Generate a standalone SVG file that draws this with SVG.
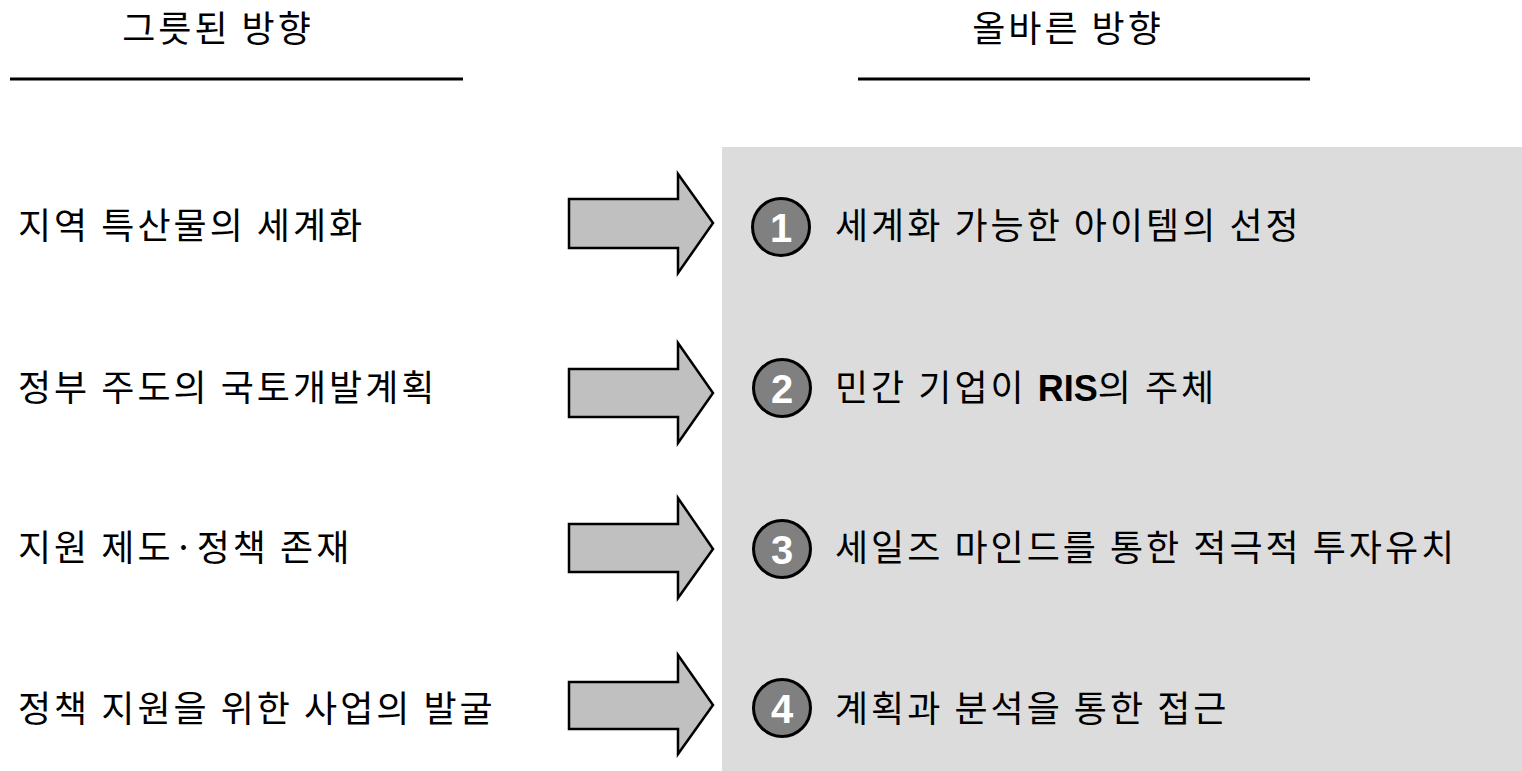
<svg xmlns="http://www.w3.org/2000/svg" width="1522" height="771" viewBox="0 0 1522 771">
<style>
.t{font-family:"Noto Sans CJK KR","Liberation Sans",sans-serif;font-size:36px;letter-spacing:3px;fill:#000}
.h{font-family:"Noto Sans CJK KR","Liberation Sans",sans-serif;font-size:36px;letter-spacing:3px;fill:#000;text-anchor:middle}
.num{font-family:"Liberation Sans",Arial,sans-serif;font-weight:bold;font-size:40px;fill:#fff;text-anchor:middle}
.arr{fill:#c0c0c0;stroke:#000;stroke-width:2.5;stroke-linejoin:miter}
.c{fill:#808080;stroke:#000;stroke-width:3}
.b{font-family:"Liberation Sans",Arial,sans-serif;font-weight:bold;letter-spacing:0}
</style>
<rect x="0" y="0" width="1522" height="771" fill="#fff"/>
<rect id="panel" x="722" y="147" width="800" height="624" fill="#dcdcdc"/>
<g id="headers">
<text class="h" x="218" y="42">그릇된 방향</text>
<line x1="10" y1="79" x2="463" y2="79" stroke="#000" stroke-width="3"/>
<text class="h" x="1068" y="42">올바른 방향</text>
<line x1="858" y1="79" x2="1310" y2="79" stroke="#000" stroke-width="3"/>
</g>
<g id="connectors">
<polygon class="arr" points="569,199 678,199 678,174 713,223 678,273 678,248 569,248"/>
<polygon class="arr" points="569,369 678,369 678,343 713,393 678,443 678,417 569,417"/>
<polygon class="arr" points="569,524 678,524 678,498 713,549 678,598 678,572 569,572"/>
<polygon class="arr" points="569,682 678,682 678,655 713,705 678,754 678,729 569,729"/>
</g>
<g id="row1">
<text class="t" x="18" y="239">지역 특산물의 세계화</text>
<circle class="c" cx="781" cy="227" r="28.5"/>
<text class="num" x="781" y="242">1</text>
<text class="t" x="835" y="239">세계화 가능한 아이템의 선정</text>
</g>
<g id="row2">
<text class="t" x="18" y="401">정부 주도의 국토개발계획</text>
<circle class="c" cx="782" cy="388" r="28.5"/>
<text class="num" x="782" y="403">2</text>
<text class="t" x="835" y="401">민간 기업이 <tspan class="b">RIS</tspan>의 주체</text>
</g>
<g id="row3">
<text class="t" x="18" y="561">지원 제도·정책 존재</text>
<circle class="c" cx="782" cy="549" r="28.5"/>
<text class="num" x="782" y="564">3</text>
<text class="t" x="835" y="561">세일즈 마인드를 통한 적극적 투자유치</text>
</g>
<g id="row4">
<text class="t" x="18" y="722">정책 지원을 위한 사업의 발굴</text>
<circle class="c" cx="782" cy="708" r="28.5"/>
<text class="num" x="782" y="723">4</text>
<text class="t" x="835" y="722">계획과 분석을 통한 접근</text>
</g>
</svg>
